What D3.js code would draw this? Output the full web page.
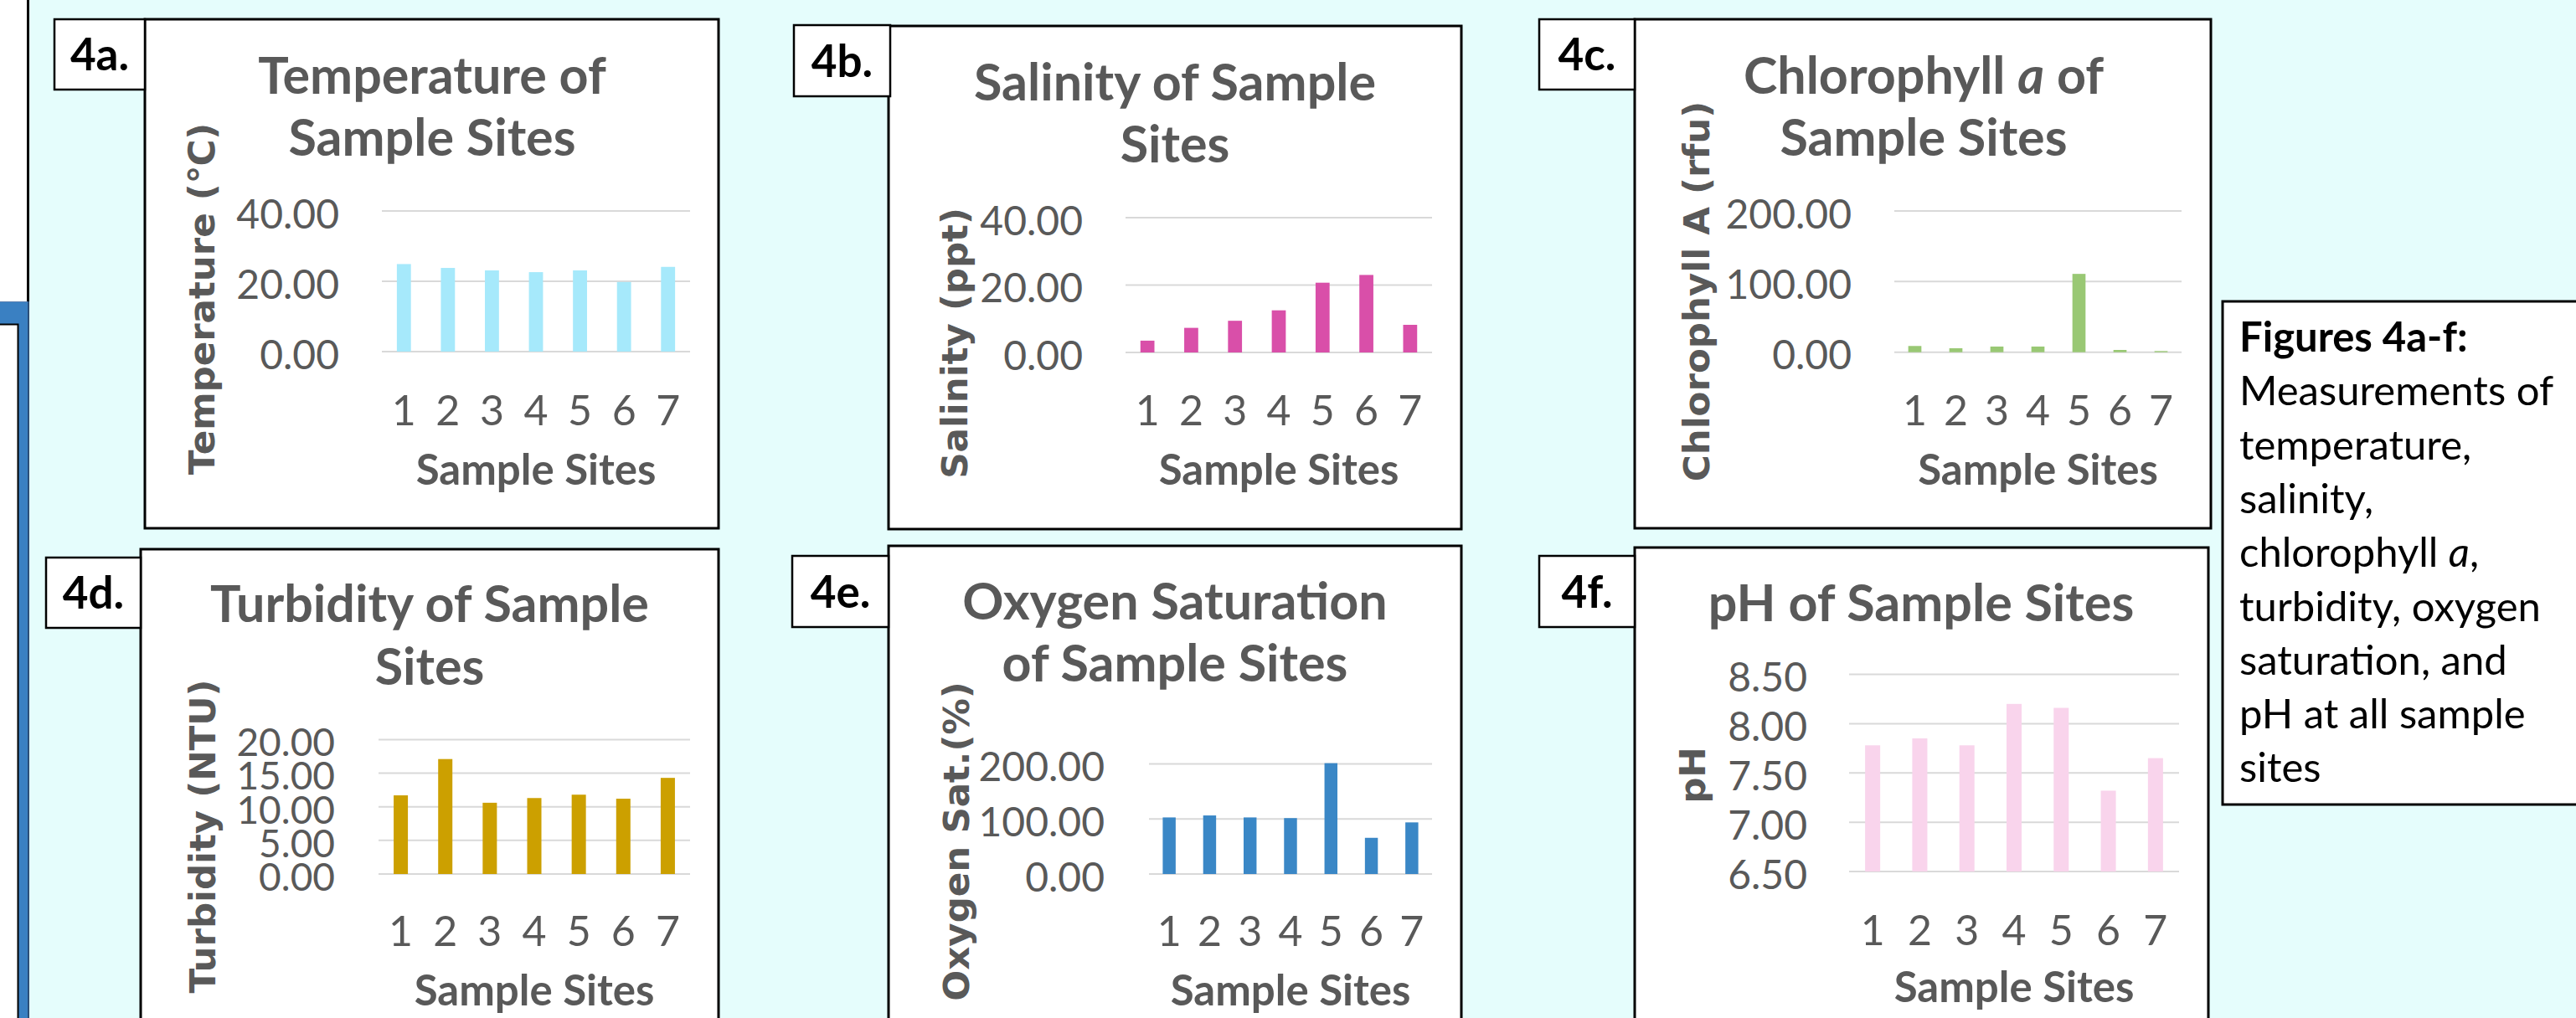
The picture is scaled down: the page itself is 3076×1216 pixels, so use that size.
<!DOCTYPE html>
<html><head><meta charset="utf-8">
<script src="https://cdn.jsdelivr.net/npm/d3@7"></script>
<style>body{margin:0;background:#e5fdfc;} svg{display:block}</style>
</head><body>
<script>
// ---------------- DATA ----------------
const sites = ["1","2","3","4","5","6","7"];
const temperature = [24.9, 23.8, 23.1, 22.6, 23.1, 19.8, 24.1];
const salinity    = [3.5, 7.3, 9.4, 12.5, 20.7, 23.0, 8.2];
const chlorophyll = [8.8, 5.6, 8.0, 8.0, 110.9, 3.2, 1.6];
const turbidity   = [11.7, 17.1, 10.6, 11.3, 11.8, 11.2, 14.3];
const oxygen      = [102.7, 106.3, 102.7, 101.5, 201.2, 65.7, 93.7];
const ph          = [7.78, 7.85, 7.78, 8.20, 8.16, 7.32, 7.65];

const tempTicks = [0, 20, 40];
const salTicks  = [0, 20, 40];
const chlTicks  = [0, 100, 200];
const turbTicks = [0, 5, 10, 15, 20];
const oxyTicks  = [0, 100, 200];
const phTicks   = [6.5, 7.0, 7.5, 8.0, 8.5];

const xAxisTitle = "Sample Sites";
const captionLines = [
  [{t:"Figures 4a-f:", b:true}],
  [{t:"Measurements of"}],
  [{t:"temperature,"}],
  [{t:"salinity,"}],
  [{t:"chlorophyll "},{t:"a", i:true},{t:","}],
  [{t:"turbidity, oxygen"}],
  [{t:"saturation, and"}],
  [{t:"pH at all sample"}],
  [{t:"sites"}]
];

// ---------------- LAYOUT / STYLE ----------------
const W = 3076, H = 1216;
const BG = "#e5fdfc", GRAY = "#595959", GRID = "#d9d9d9";
const SANS = "Lato, 'Open Sans', sans-serif";
const YFONT = "'DejaVu Sans', Verdana, sans-serif";

const panels = [
  { label:"4a.", lbox:[65,23,173,107], box:[173,23,858,631],
    title:[[{t:"Temperature of"}],[{t:"Sample Sites"}]], tx:516, ty:[112,186],
    ylab:[{t:"Temperature ",b:true},{t:"(℃)"}], yx:256, yc:357,
    values:temperature, ticks:tempTicks, domain:[0,40], color:"#a6e9fb",
    px:[456,824], py:[420,252], tickR:405, xtb:508, xtt:579, tfs:48 },
  { label:"4b.", lbox:[948,30,1063,115], box:[1061,31,1745,632],
    title:[[{t:"Salinity of Sample"}],[{t:"Sites"}]], tx:1403, ty:[120,194],
    ylab:[{t:"Salinity (ppt)",b:true}], yx:1155, yc:410,
    values:salinity, ticks:salTicks, domain:[0,40], color:"#d94fa9",
    px:[1344,1710], py:[421,260], tickR:1293, xtb:508, xtt:579, tfs:48 },
  { label:"4c.", lbox:[1838,23,1952,107], box:[1952,23,2640,631],
    title:[[{t:"Chlorophyll "},{t:"a",i:true},{t:" of"}],[{t:"Sample Sites"}]], tx:2297, ty:[112,186],
    ylab:[{t:"Chlorophyll A (rfu)",b:true}], yx:2041, yc:348,
    values:chlorophyll, ticks:chlTicks, domain:[0,200], color:"#99c874",
    px:[2262,2605], py:[420.7,252], tickR:2211, xtb:508, xtt:579, tfs:48 },
  { label:"4d.", lbox:[55,666,168,750], box:[168,656,858,1260],
    title:[[{t:"Turbidity of Sample"}],[{t:"Sites"}]], tx:513, ty:[743,818],
    ylab:[{t:"Turbidity (NTU)",b:true}], yx:257, yc:999,
    values:turbidity, ticks:turbTicks, domain:[0,20], color:"#cca000",
    px:[452,824], py:[1044,883.4], tickR:400, xtb:1130, xtt:1201, tfs:46 },
  { label:"4e.", lbox:[946,664,1061,749], box:[1061,652,1745,1260],
    title:[[{t:"Oxygen Saturation"}],[{t:"of Sample Sites"}]], tx:1403, ty:[739.5,814],
    ylab:[{t:"Oxygen Sat.(%)",b:true}], yx:1157, yc:1005,
    values:oxygen, ticks:oxyTicks, domain:[0,200], color:"#3a87c6",
    px:[1372,1710], py:[1044,912.4], tickR:1319, xtb:1130, xtt:1201, tfs:48 },
  { label:"4f.", lbox:[1838,664,1952,749], box:[1952,654,2637,1260],
    title:[[{t:"pH of Sample Sites"}]], tx:2294, ty:[741.5],
    ylab:[{t:"pH",b:true}], yx:2036, yc:926,
    values:ph, ticks:phTicks, domain:[6.5,8.5], color:"#f9d4ec",
    px:[2208,2602], py:[1041,805.5], tickR:2158, xtb:1128.6, xtt:1197, tfs:48 }
];

const svg = d3.select("body").append("svg").attr("width", W).attr("height", H);
svg.append("rect").attr("width", W).attr("height", H).attr("fill", BG);

// left-edge decorations
svg.append("rect").attr("x",-2).attr("y",-2).attr("width",34).attr("height",362).attr("fill","#fff");
svg.append("line").attr("x1",33.5).attr("x2",33.5).attr("y1",0).attr("y2",360).attr("stroke","#000").attr("stroke-width",3);
svg.append("rect").attr("x",0).attr("y",360).attr("width",34).attr("height",H-360).attr("fill","#3a80c2");
svg.append("line").attr("x1",0).attr("x2",34).attr("y1",360.5).attr("y2",360.5).attr("stroke","#5a7fb0").attr("stroke-width",1);
svg.append("line").attr("x1",34).attr("x2",34).attr("y1",360).attr("y2",H).attr("stroke","#2c4f78").attr("stroke-width",2);
svg.append("rect").attr("x",-3).attr("y",387.5).attr("width",24.5).attr("height",H).attr("fill","#fff").attr("stroke","#000").attr("stroke-width",2);

function addSegs(textSel, segs, baseBold){
  segs.forEach(s=>{
    textSel.append("tspan").text(s.t)
      .attr("font-weight", s.b!==undefined ? (s.b?"bold":"normal") : (baseBold?"bold":"normal"))
      .attr("font-style", s.i ? "italic" : "normal");
  });
}

panels.forEach(p=>{
  const g = svg.append("g");
  // chart box
  g.append("rect").attr("x",p.box[0]).attr("y",p.box[1])
    .attr("width",p.box[2]-p.box[0]).attr("height",p.box[3]-p.box[1])
    .attr("fill","#fff").attr("stroke","#000").attr("stroke-width",3);
  // label box
  g.append("rect").attr("x",p.lbox[0]).attr("y",p.lbox[1])
    .attr("width",p.lbox[2]-p.lbox[0]).attr("height",p.lbox[3]-p.lbox[1])
    .attr("fill","#fff").attr("stroke","#000").attr("stroke-width",2.5);
  g.append("text").text(p.label)
    .attr("x",(p.lbox[0]+p.lbox[2])/2).attr("y",(p.lbox[1]+p.lbox[3])/2+19)
    .attr("text-anchor","middle").attr("font-family",SANS).attr("font-weight","bold")
    .attr("font-size",53).attr("fill","#000");

  // title
  p.title.forEach((line,i)=>{
    const t = g.append("text").attr("x",p.tx).attr("y",p.ty[i])
      .attr("text-anchor","middle").attr("font-family",SANS).attr("font-size",61)
      .attr("fill",GRAY);
    addSegs(t, line, true);
  });

  // scales
  const x = d3.scaleBand().domain(sites).range(p.px).paddingInner(0.68).paddingOuter(0.34);
  const y = d3.scaleLinear().domain(p.domain).range(p.py);

  // gridlines
  g.append("g").selectAll("line").data(p.ticks).join("line")
    .attr("x1",p.px[0]).attr("x2",p.px[1])
    .attr("y1",d=>y(d)).attr("y2",d=>y(d))
    .attr("stroke",GRID).attr("stroke-width",2);

  // y tick labels (via d3 axis)
  const yAxis = d3.axisLeft(y).tickValues(p.ticks).tickFormat(d3.format(".2f")).tickSize(0).tickPadding(0);
  const ya = g.append("g").attr("transform",`translate(${p.tickR},0)`).call(yAxis);
  ya.select(".domain").remove();
  ya.selectAll("text").attr("font-family",SANS).attr("font-size",p.tfs).attr("fill",GRAY)
    .attr("dy","0.42em");

  // bars
  g.append("g").selectAll("rect").data(p.values).join("rect")
    .attr("x",(d,i)=>x(sites[i])).attr("width",x.bandwidth())
    .attr("y",d=>y(d)).attr("height",d=>y(p.domain[0])-y(d))
    .attr("fill",p.color);

  // x tick labels (via d3 axis)
  const xAxis = d3.axisBottom(x).tickSize(0).tickPadding(0);
  const xa = g.append("g").attr("transform",`translate(0,${p.xtb})`).call(xAxis);
  xa.select(".domain").remove();
  xa.selectAll("text").attr("font-family",SANS).attr("font-size",50).attr("fill",GRAY)
    .attr("dy","0");

  // x axis title
  g.append("text").text(xAxisTitle)
    .attr("x",(p.px[0]+p.px[1])/2).attr("y",p.xtt)
    .attr("text-anchor","middle").attr("font-family",SANS).attr("font-weight","bold")
    .attr("font-size",51).attr("fill",GRAY);

  // y axis title
  const yt = g.append("text").attr("transform",`translate(${p.yx},${p.yc}) rotate(-90)`)
    .attr("text-anchor","middle").attr("font-family",YFONT).attr("font-size",43.5).attr("fill",GRAY);
  addSegs(yt, p.ylab, true);
});

// caption box
svg.append("rect").attr("x",2654).attr("y",360).attr("width",500).attr("height",601)
  .attr("fill","#fff").attr("stroke","#000").attr("stroke-width",3);
captionLines.forEach((line,i)=>{
  const t = svg.append("text").attr("x",2674).attr("y",420 + i*64.3)
    .attr("font-family",SANS).attr("font-size",49).attr("fill","#000");
  addSegs(t, line, false);
});
</script>
</body></html>
